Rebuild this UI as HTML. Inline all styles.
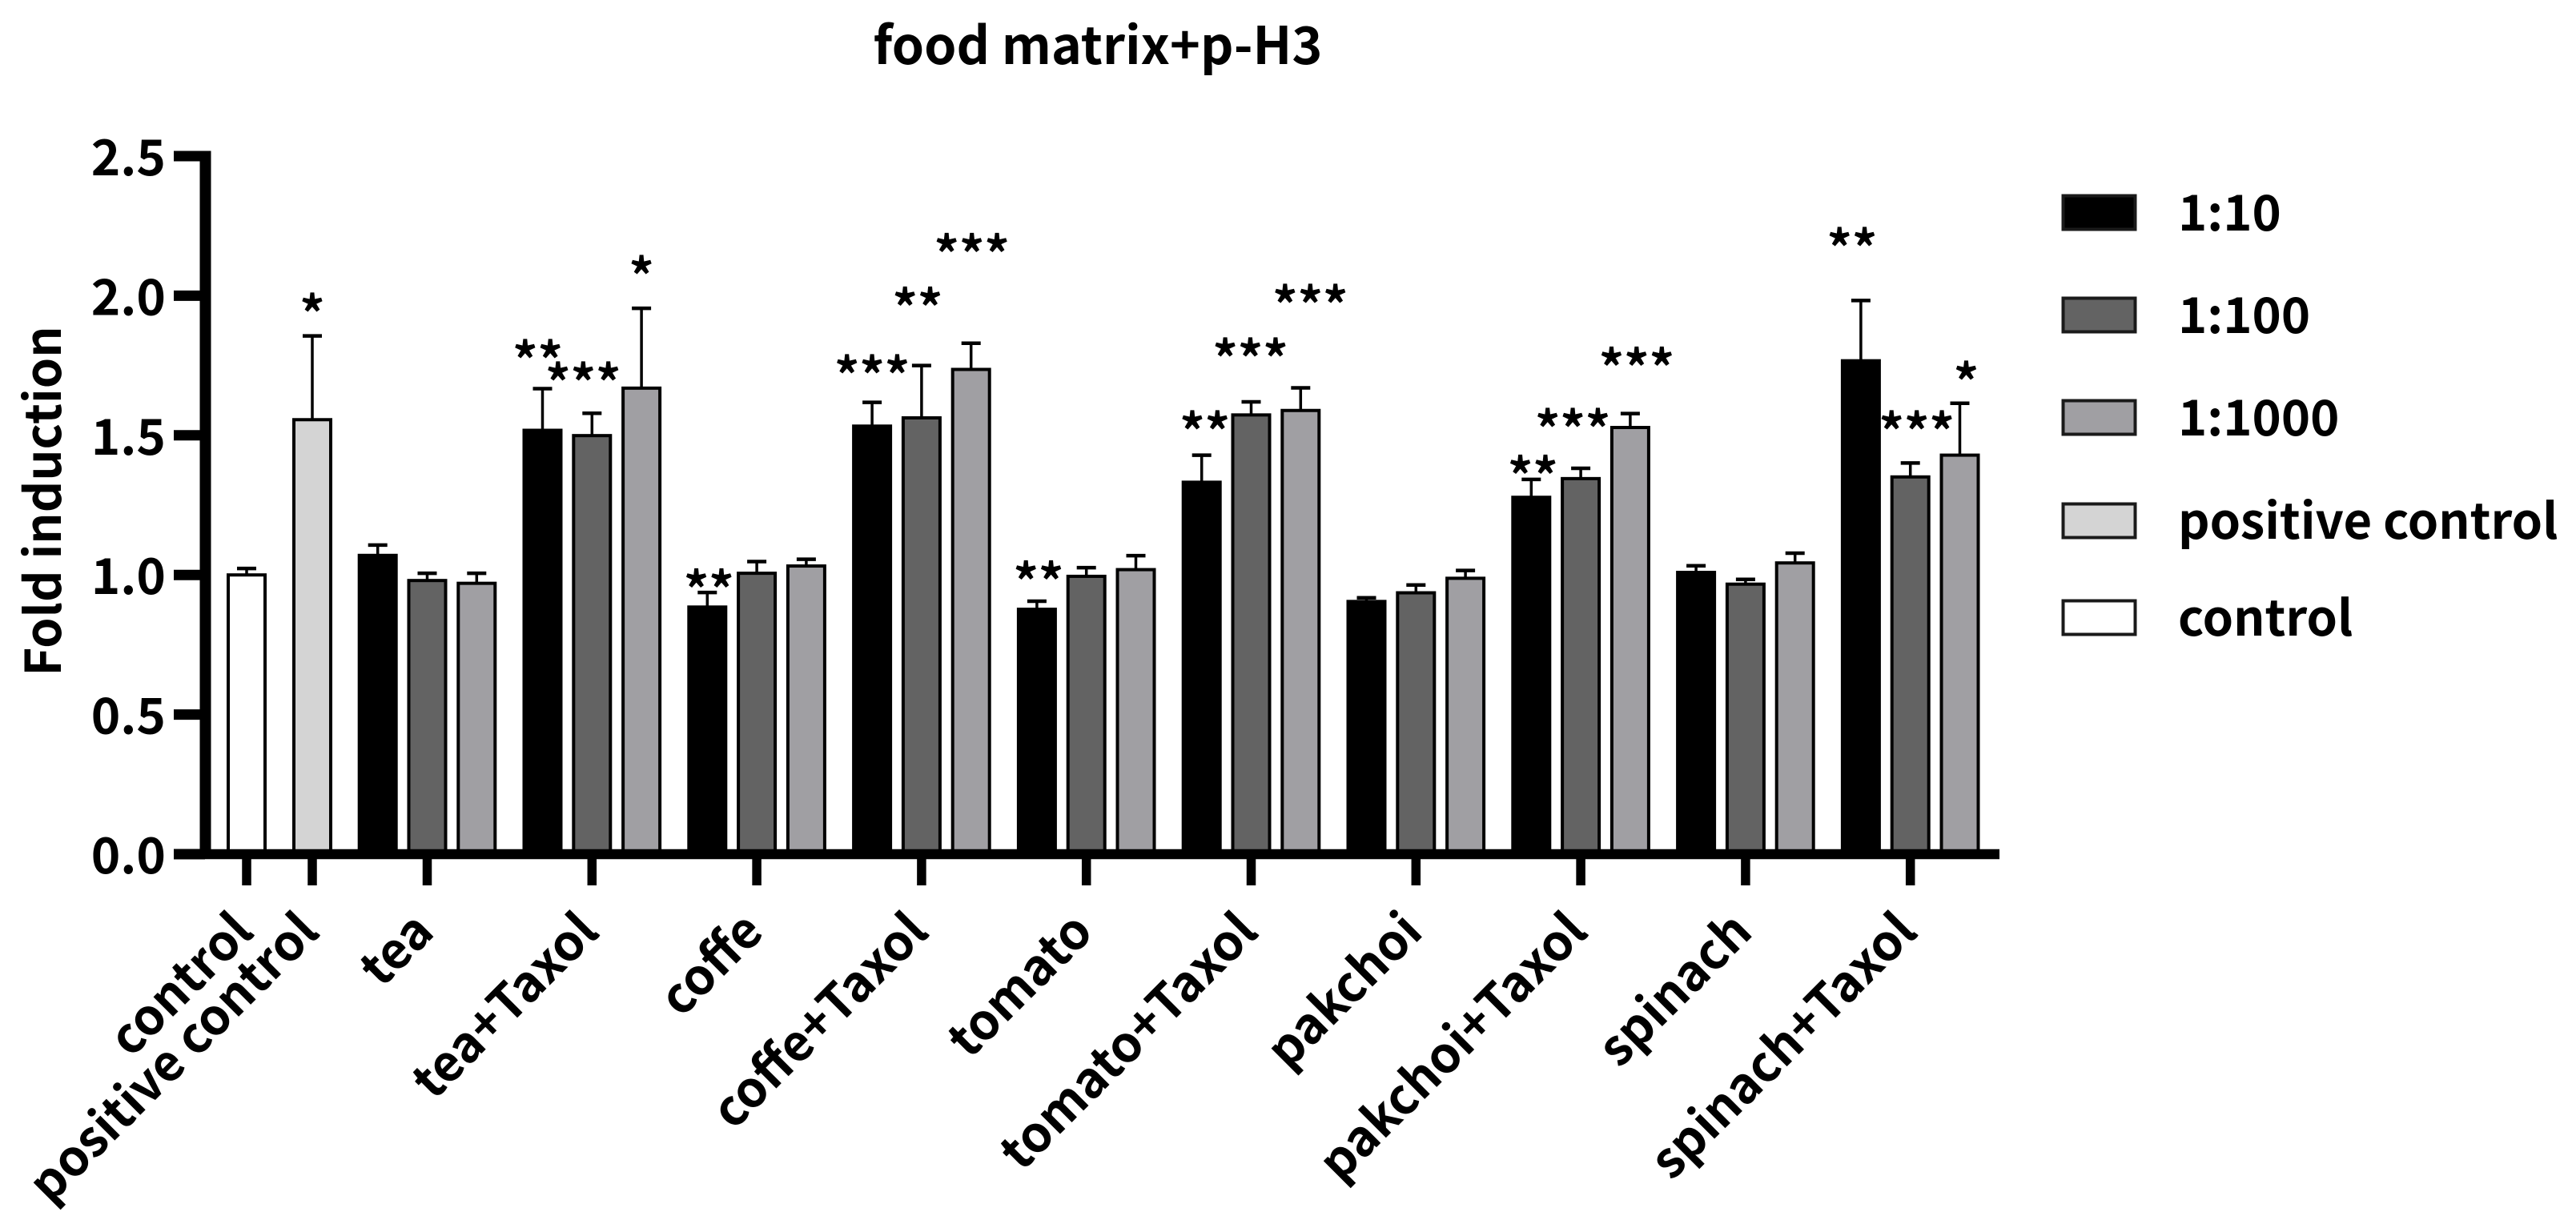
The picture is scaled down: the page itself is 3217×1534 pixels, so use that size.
<!DOCTYPE html>
<html lang="en">
<head>
<meta charset="utf-8">
<title>food matrix+p-H3</title>
<style>
html,body{margin:0;padding:0;background:#fff;}
svg{display:block;}
text{font-family:"Noto Sans CJK SC","Liberation Sans",sans-serif;font-weight:700;fill:#000;}
</style>
</head>
<body>
<svg id="chart" xmlns="http://www.w3.org/2000/svg" width="3217" height="1534" viewBox="0 0 3217 1534">
<rect x="0" y="0" width="3217" height="1534" fill="#fff"/>
<text x="1371" y="80" font-size="64.5" text-anchor="middle">food matrix+p-H3</text>
<text transform="translate(76,626) rotate(-90)" font-size="61.5" text-anchor="middle">Fold induction</text>
</svg>
<script>
const yTickValues = [0, 0.5, 1, 1.5, 2, 2.5];
const yTickLabels = ['0.0', '0.5', '1.0', '1.5', '2.0', '2.5'];
const controlCategories = ['control', 'positive control'];
const groupCategories = ['tea', 'tea+Taxol', 'coffe', 'coffe+Taxol', 'tomato', 'tomato+Taxol', 'pakchoi', 'pakchoi+Taxol', 'spinach', 'spinach+Taxol'];
const seriesNames = ['1:10', '1:100', '1:1000'];
const legendNames = ['1:10', '1:100', '1:1000', 'positive control', 'control'];

const controlValues = [1.00, 1.556];
const controlErrors = [0.023, 0.300];
const controlStars = ['', '*'];
const controlStarLevels = [null, 1.968];

const values10 = [1.07, 1.518, 0.885, 1.533, 0.877, 1.332, 0.905, 1.278, 1.009, 1.767];
const errors10 = [0.037, 0.149, 0.052, 0.085, 0.029, 0.097, 0.013, 0.064, 0.024, 0.216];
const stars10 = ['', '**', '**', '***', '**', '**', '', '**', '', '**'];
const starLevels10 = [null, 1.802, 0.980, 1.748, 1.009, 1.547, null, 1.387, null, 2.203];
const starNudge10 = [0, -6, 2, 0, 2, 4, 0, 2, 0, -11];

const values100 = [0.98, 1.499, 1.006, 1.5625, 0.995, 1.573, 0.936, 1.345, 0.967, 1.351];
const errors100 = [0.026, 0.080, 0.042, 0.1875, 0.031, 0.047, 0.028, 0.037, 0.017, 0.050];
const stars100 = ['', '***', '', '**', '', '***', '', '***', '', '***'];
const starLevels100 = [null, 1.722, null, 1.989, null, 1.808, null, 1.556, null, 1.547];
const starNudge100 = [0, -11, 0, -5, 0, -1, 0, -10, 0, 8];

const values1000 = [0.97, 1.669, 1.032, 1.736, 1.019, 1.589, 0.988, 1.528, 1.043, 1.429];
const errors1000 = [0.036, 0.286, 0.024, 0.094, 0.050, 0.081, 0.028, 0.050, 0.035, 0.186];
const stars1000 = ['', '*', '', '***', '', '***', '', '***', '', '*'];
const starLevels1000 = [null, 2.103, null, 2.182, null, 2.0, null, 1.774, null, 1.725];
const starNudge1000 = [0, 0, 0, 1, 0, 12, 0, 8, 0, 8];

const svg = document.getElementById('chart');
const NS = 'http://www.w3.org/2000/svg';
const axisY0 = 1067, unitPx = 348.8;
const controlX0 = 308, controlStep = 82, groupX0 = 533.5, groupStep = 205.8, barStep = 61.8;
const barW = 46, barStroke = 4;
const seriesFills = ['#000000', '#636363', '#a09fa3'];
const controlFills = ['#ffffff', '#d4d4d4'];

function yScale(v) { return axisY0 - v * unitPx; }
function xControl(i) { return controlX0 + i * controlStep; }
function xGroup(i) { return groupX0 + i * groupStep; }
function xBar(g, s) { return xGroup(g) + (s - 1) * barStep; }

function make(tag, attrs, parent) {
  const el = document.createElementNS(NS, tag);
  for (const k in attrs) el.setAttribute(k, attrs[k]);
  (parent || svg).appendChild(el);
  return el;
}

function drawBar(cx, value, err, fill, name) {
  const top = yScale(value);
  const capY = yScale(value + err);
  const stem = make('line', { x1: cx, x2: cx, y1: top, y2: capY, stroke: '#000', 'stroke-width': 3.5 });
  
  
  const cap = make('line', { x1: cx - 12, x2: cx + 12, y1: capY, y2: capY, stroke: '#000', 'stroke-width': 4.5 });
  
  
  const bar = make('rect', { x: cx - barW / 2, y: top, width: barW, height: axisY0 - top, fill: fill, stroke: '#000', 'stroke-width': barStroke });
  
  
}

function drawStars(cx, level, label, name) {
  const t = make('text', { x: cx, y: yScale(level) + 35, 'font-size': 62, 'text-anchor': 'middle' });
  t.textContent = label;
  
  
}

controlCategories.forEach(function (c, i) {
  const key = c.replace(/[^a-z0-9]+/gi, '-');
  drawBar(xControl(i), controlValues[i], controlErrors[i], controlFills[i], key);
  if (controlStars[i]) drawStars(xControl(i), controlStarLevels[i], controlStars[i], key);
});

const groupValues = [values10, values100, values1000];
const groupErrors = [errors10, errors100, errors1000];
const groupStars = [stars10, stars100, stars1000];
const groupStarLevels = [starLevels10, starLevels100, starLevels1000];
const groupStarNudge = [starNudge10, starNudge100, starNudge1000];

groupCategories.forEach(function (c, g) {
  seriesNames.forEach(function (sName, s) {
    const key = c.replace(/[^a-z0-9]+/gi, '-') + '-' + sName.replace(':', '-');
    drawBar(xBar(g, s), groupValues[s][g], groupErrors[s][g], seriesFills[s], key);
    if (groupStars[s][g]) drawStars(xBar(g, s) + groupStarNudge[s][g], groupStarLevels[s][g], groupStars[s][g], key);
  });
});

/* axes */
const yAxis = make('line', { x1: 256.5, x2: 256.5, y1: yScale(2.5) - 6.5, y2: axisY0 + 6, stroke: '#000', 'stroke-width': 14 });


const xAxis = make('line', { x1: 217, x2: 2497, y1: axisY0, y2: axisY0, stroke: '#000', 'stroke-width': 12.5 });



yTickValues.forEach(function (v, i) {
  const tick = make('line', { x1: 217, x2: 256, y1: yScale(v), y2: yScale(v), stroke: '#000', 'stroke-width': 13 });
  
  
  const label = make('text', { x: 207, y: yScale(v) + 24, 'font-size': 62, 'text-anchor': 'end' });
  label.textContent = yTickLabels[i];
  
  
});

function drawXTick(x, text) {
  const key = text.replace(/[^a-z0-9]+/gi, '-');
  const tick = make('line', { x1: x, x2: x, y1: axisY0 + 6, y2: 1106, stroke: '#000', 'stroke-width': 11.5 });
  
  
  const label = make('text', { transform: 'translate(' + (x + 11) + ',1167) rotate(-45)', 'font-size': 62, 'text-anchor': 'end' });
  label.textContent = text;
  
  
}
controlCategories.forEach(function (c, i) { drawXTick(xControl(i), c); });
groupCategories.forEach(function (c, g) { drawXTick(xGroup(g), c); });

/* legend */
const legendFills = ['#000000', '#636363', '#a09fa3', '#d4d4d4', '#ffffff'];
const legendBaselines = [288, 416, 544, 673, 794];
legendNames.forEach(function (n, i) {
  const key = n.replace(/[^a-z0-9]+/gi, '-');
  const swatch = make('rect', { x: 2576.5, y: legendBaselines[i] - 43.5, width: 90, height: 42, fill: legendFills[i], stroke: '#1a1a1a', 'stroke-width': 4 });
  
  
  const label = make('text', { x: 2720, y: legendBaselines[i], 'font-size': 61.5 });
  label.textContent = n;
  
  
});
</script>
</body>
</html>
